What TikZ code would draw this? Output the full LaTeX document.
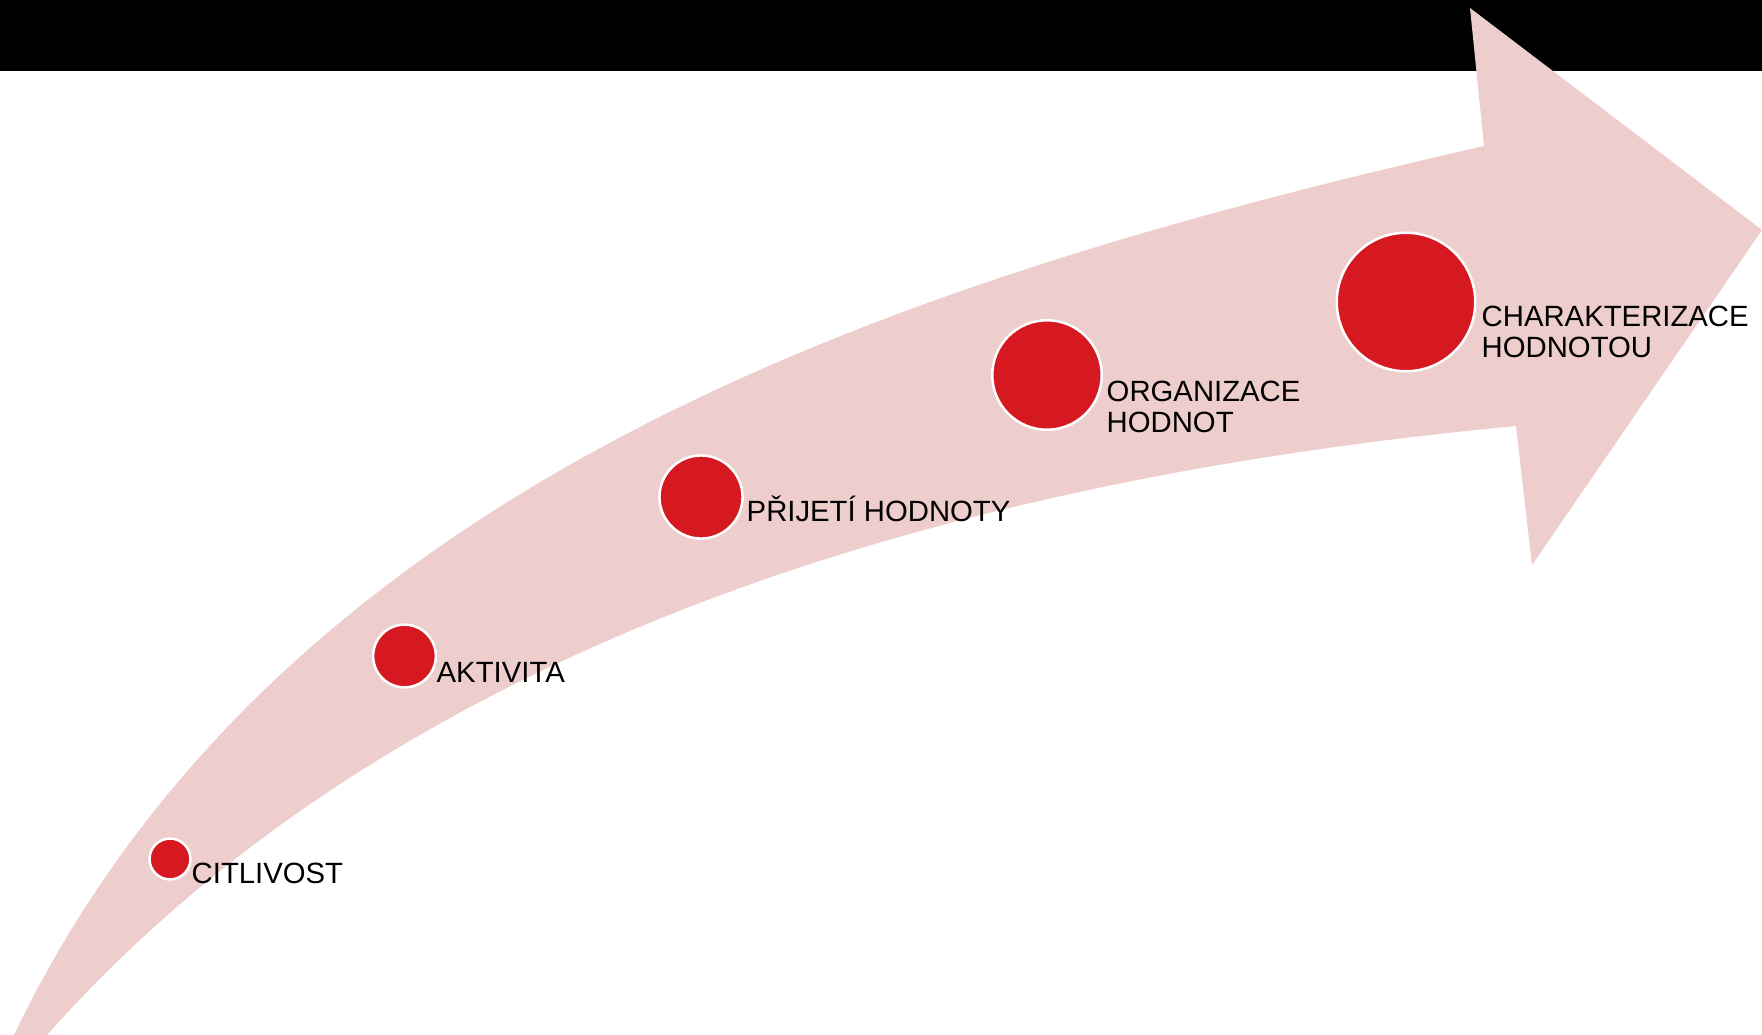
\documentclass[tikz,border=0pt]{standalone}
\usepackage{fontspec}
\setmainfont{Liberation Sans}
\definecolor{bandpink}{RGB}{238,205,205}
\definecolor{dotred}{RGB}{214,24,32}
\begin{document}
\begin{tikzpicture}[x=1pt,y=-1pt,
  dot/.style={circle,fill=dotred,draw=white,line width=2.5pt,inner sep=0pt},
  lbl/.style={anchor=base west,inner sep=0pt,font=\fontsize{29.3}{31}\selectfont,text=black}]
\useasboundingbox (0,0) rectangle (1762,1035);
\fill[black] (0,0) rectangle (1762,71);
\fill[bandpink] (14,1035) .. controls (285,470) and (924,274) .. (1484,146)
  -- (1470,8) -- (1762,230) -- (1532,565) -- (1516,426)
  .. controls (987,476) and (411,625) .. (47,1035) -- cycle;
\node[dot,minimum size=40.9pt] (c1) at (170,859) {};
\node[dot,minimum size=62.7pt] (c2) at (404.5,656) {};
\node[dot,minimum size=83.1pt] (c3) at (701,497) {};
\node[dot,minimum size=109.5pt] (c4) at (1047,375) {};
\node[dot,minimum size=138.5pt] (c5) at (1406,302) {};
\node[lbl] (t1) at (191.5,883) {CITLIVOST};
\node[lbl] (t2) at (436.5,682) {AKTIVITA};
\node[lbl] (t3) at (746.5,521) {PŘIJETÍ HODNOTY};
\node[lbl] (t4) at (1106.5,401) {\begin{tabular}[t]{@{}l@{}}ORGANIZACE\\HODNOT\end{tabular}};
\node[lbl] (t5) at (1481.5,326) {\begin{tabular}[t]{@{}l@{}}CHARAKTERIZACE\\HODNOTOU\end{tabular}};
\end{tikzpicture}
\end{document}
